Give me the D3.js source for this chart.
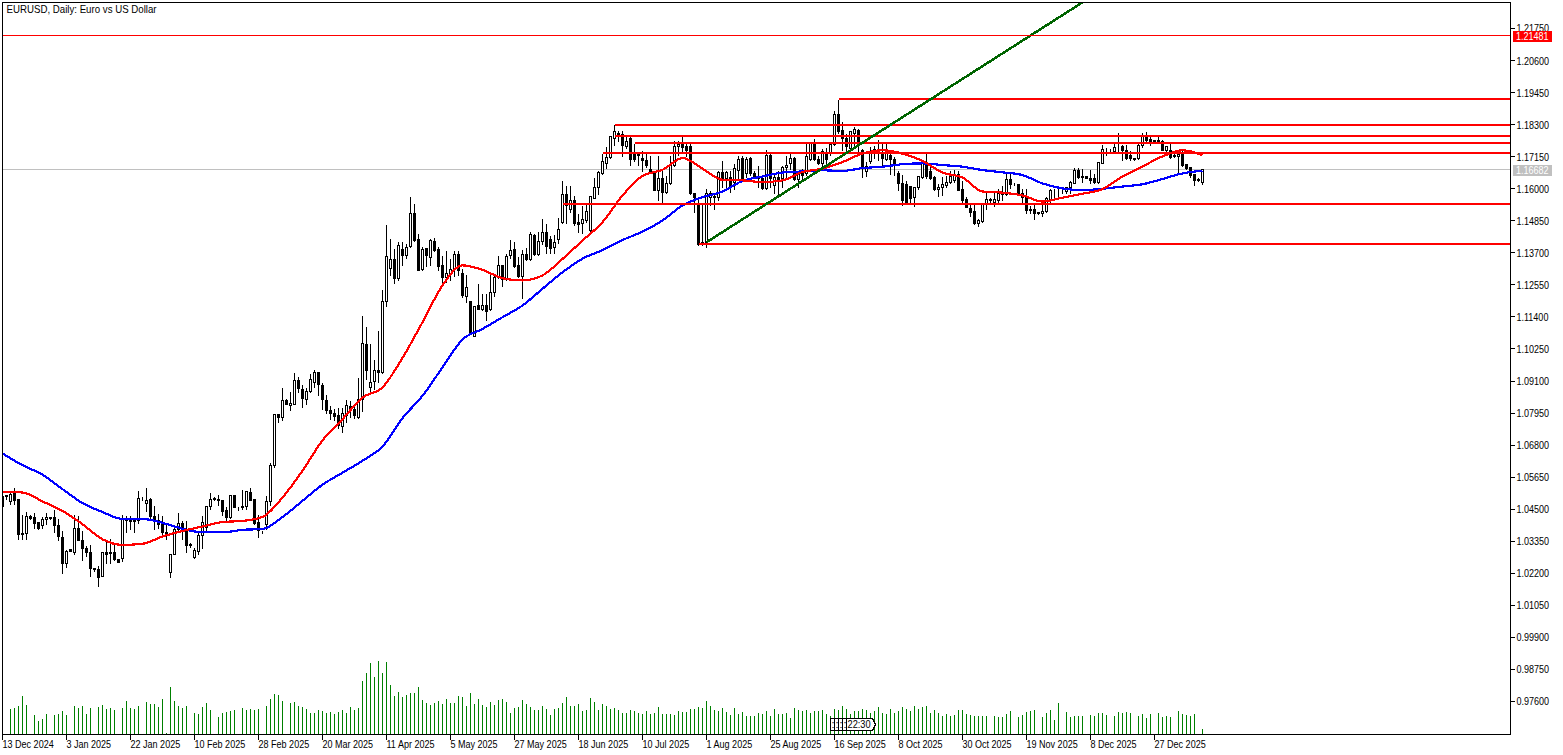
<!DOCTYPE html>
<html><head><meta charset="utf-8">
<script src="https://cdn.jsdelivr.net/npm/d3@7/dist/d3.min.js"></script>
<style>
html,body{margin:0;padding:0;background:#fff;overflow:hidden}
svg{display:block}
text{font-family:"Liberation Sans",sans-serif;font-size:11px;fill:#000}
</style></head><body>
<svg id="c" width="1563" height="755"></svg>
<script>
const titleText = "EURUSD, Daily:  Euro vs US Dollar";
const dateLabels = ["13 Dec 2024","3 Jan 2025","22 Jan 2025","10 Feb 2025","28 Feb 2025","20 Mar 2025","11 Apr 2025","5 May 2025","27 May 2025","18 Jun 2025","10 Jul 2025","1 Aug 2025","25 Aug 2025","16 Sep 2025","8 Oct 2025","30 Oct 2025","19 Nov 2025","8 Dec 2025","27 Dec 2025"];
const priceTicks = [1.2175,1.206,1.1945,1.183,1.1715,1.16,1.1485,1.137,1.1255,1.114,1.1025,1.091,1.0795,1.068,1.0565,1.045,1.0335,1.022,1.0105,0.999,0.9875,0.976];
const lastPrice = 1.16682;
const alertPrice = 1.21481;
// [open, high, low, close] per daily bar
const candles = [
[1.0494,1.0498,1.0460,1.0460],[1.0498,1.0504,1.0486,1.0494],[1.0478,1.0516,1.0468,1.0504],[1.0506,1.0528,1.0468,1.0482],[1.0484,1.0484,1.0340,1.0358],[1.0364,1.0430,1.0340,1.0359],[1.0364,1.0442,1.0340,1.0425],[1.0425,1.0430,1.0414,1.0416],[1.0421,1.0440,1.0382,1.0397],[1.0402,1.0404,1.0378,1.0382],
[1.0392,1.0425,1.0382,1.0414],[1.0414,1.0439,1.0396,1.0422],[1.0420,1.0422,1.0413,1.0415],[1.0419,1.0450,1.0366,1.0392],[1.0392,1.0418,1.0336,1.0352],[1.0347,1.0372,1.0218,1.0254],[1.0254,1.0304,1.0240,1.0300],[1.0304,1.0306,1.0298,1.0300],[1.0294,1.0432,1.0288,1.0382],[1.0382,1.0426,1.0336,1.0338],
[1.0338,1.0372,1.0266,1.0308],[1.0310,1.0318,1.0282,1.0293],[1.0296,1.0324,1.0209,1.0236],[1.0237,1.0242,1.0228,1.0235],[1.0232,1.0248,1.0173,1.0206],[1.0210,1.0300,1.0208,1.0296],[1.0296,1.0336,1.0254,1.0287],[1.0296,1.0344,1.0254,1.0292],[1.0296,1.0330,1.0266,1.0269],[1.0270,1.0272,1.0257,1.0258],
[1.0272,1.0430,1.0264,1.0414],[1.0414,1.0426,1.0366,1.0408],[1.0414,1.0426,1.0378,1.0407],[1.0414,1.0422,1.0366,1.0407],[1.0408,1.0516,1.0398,1.0490],[1.0490,1.0494,1.0480,1.0488],[1.0470,1.0528,1.0442,1.0482],[1.0484,1.0492,1.0414,1.0423],[1.0425,1.0462,1.0378,1.0410],[1.0408,1.0434,1.0382,1.0396],
[1.0398,1.0426,1.0360,1.0366],[1.0368,1.0396,1.0342,1.0362],[1.0222,1.0290,1.0204,1.0288],[1.0288,1.0390,1.0286,1.0378],[1.0379,1.0438,1.0372,1.0398],[1.0400,1.0408,1.0342,1.0374],[1.0370,1.0408,1.0294,1.0318],[1.0323,1.0330,1.0314,1.0321],[1.0276,1.0312,1.0272,1.0302],[1.0298,1.0372,1.0288,1.0356],
[1.0355,1.0426,1.0310,1.0402],[1.0384,1.0462,1.0366,1.0458],[1.0458,1.0510,1.0450,1.0486],[1.0487,1.0494,1.0482,1.0486],[1.0484,1.0504,1.0462,1.0482],[1.0480,1.0482,1.0426,1.0442],[1.0444,1.0458,1.0408,1.0420],[1.0420,1.0502,1.0418,1.0498],[1.0498,1.0502,1.0456,1.0456],[1.0457,1.0458,1.0444,1.0455],
[1.0457,1.0522,1.0450,1.0459],[1.0460,1.0516,1.0450,1.0512],[1.0510,1.0528,1.0480,1.0482],[1.0484,1.0486,1.0394,1.0398],[1.0401,1.0432,1.0350,1.0372],[1.0371,1.0372,1.0364,1.0370],[1.0396,1.0498,1.0378,1.0476],[1.0476,1.0618,1.0462,1.0606],[1.0606,1.0793,1.0600,1.0789],[1.0789,1.0790,1.0761,1.0779],
[1.0779,1.0885,1.0767,1.0841],[1.0841,1.0849,1.0825,1.0827],[1.0822,1.0871,1.0803,1.0831],[1.0827,1.0941,1.0825,1.0913],[1.0913,1.0928,1.0869,1.0883],[1.0881,1.0897,1.0815,1.0849],[1.0845,1.0887,1.0827,1.0871],[1.0873,1.0937,1.0869,1.0917],[1.0905,1.0951,1.0887,1.0939],[1.0939,1.0941,1.0857,1.0899],
[1.0895,1.0905,1.0809,1.0845],[1.0841,1.0863,1.0793,1.0803],[1.0805,1.0821,1.0773,1.0795],[1.0795,1.0813,1.0767,1.0781],[1.0785,1.0815,1.0741,1.0749],[1.0747,1.0815,1.0725,1.0795],[1.0785,1.0845,1.0761,1.0821],[1.0819,1.0841,1.0779,1.0809],[1.0809,1.0827,1.0777,1.0785],[1.0779,1.0923,1.0777,1.0845],
[1.0845,1.1145,1.0801,1.1045],[1.1041,1.1105,1.0917,1.0947],[1.0887,1.1045,1.0871,1.0903],[1.0909,1.0989,1.0881,1.0949],[1.0949,1.1091,1.0905,1.0941],[1.0940,1.1237,1.0937,1.1195],[1.1195,1.1473,1.1177,1.1357],[1.1313,1.1421,1.1289,1.1345],[1.1345,1.1385,1.1261,1.1277],[1.1277,1.1409,1.1271,1.1397],
[1.1381,1.1409,1.1325,1.1359],[1.1359,1.1403,1.1349,1.1389],[1.1391,1.1573,1.1389,1.1511],[1.1511,1.1547,1.1409,1.1415],[1.1417,1.1439,1.1305,1.1307],[1.1309,1.1393,1.1307,1.1381],[1.1385,1.1389,1.1321,1.1361],[1.1355,1.1423,1.1325,1.1415],[1.1411,1.1425,1.1373,1.1377],[1.1381,1.1391,1.1307,1.1321],
[1.1325,1.1361,1.1261,1.1281],[1.1283,1.1377,1.1265,1.1295],[1.1297,1.1349,1.1271,1.1309],[1.1309,1.1377,1.1285,1.1365],[1.1365,1.1377,1.1289,1.1307],[1.1295,1.1313,1.1209,1.1217],[1.1215,1.1293,1.1193,1.1245],[1.1195,1.1196,1.1077,1.1079],[1.1071,1.1181,1.1069,1.1179],[1.1180,1.1261,1.1165,1.1167],
[1.1167,1.1225,1.1163,1.1180],[1.1181,1.1225,1.1127,1.1159],[1.1167,1.1295,1.1163,1.1229],[1.1229,1.1295,1.1213,1.1281],[1.1281,1.1361,1.1277,1.1324],[1.1324,1.1325,1.1249,1.1273],[1.1273,1.1367,1.1271,1.1357],[1.1361,1.1417,1.1349,1.1377],[1.1381,1.1409,1.1319,1.1321],[1.1324,1.1357,1.1283,1.1285],
[1.1285,1.1381,1.1205,1.1363],[1.1363,1.1389,1.1343,1.1345],[1.1345,1.1445,1.1341,1.1437],[1.1433,1.1441,1.1361,1.1365],[1.1365,1.1445,1.1361,1.1411],[1.1409,1.1493,1.1401,1.1443],[1.1443,1.1475,1.1369,1.1391],[1.1418,1.1432,1.1366,1.1386],[1.1390,1.1436,1.1368,1.1408],[1.1418,1.1498,1.1404,1.1452],
[1.1480,1.1630,1.1476,1.1578],[1.1578,1.1612,1.1474,1.1540],[1.1526,1.1612,1.1516,1.1556],[1.1556,1.1576,1.1468,1.1476],[1.1478,1.1510,1.1444,1.1473],[1.1474,1.1540,1.1438,1.1488],[1.1486,1.1546,1.1480,1.1518],[1.1450,1.1576,1.1448,1.1572],[1.1566,1.1640,1.1564,1.1606],[1.1604,1.1666,1.1580,1.1660],
[1.1654,1.1726,1.1652,1.1698],[1.1692,1.1750,1.1672,1.1712],[1.1712,1.1790,1.1708,1.1786],[1.1780,1.1830,1.1756,1.1806],[1.1800,1.1808,1.1768,1.1796],[1.1796,1.1808,1.1714,1.1754],[1.1750,1.1786,1.1744,1.1770],[1.1782,1.1786,1.1684,1.1704],[1.1728,1.1764,1.1696,1.1704],[1.1722,1.1732,1.1684,1.1720],
[1.1708,1.1738,1.1662,1.1700],[1.1700,1.1726,1.1678,1.1684],[1.1668,1.1720,1.1654,1.1660],[1.1654,1.1654,1.1592,1.1594],[1.1594,1.1720,1.1558,1.1636],[1.1636,1.1672,1.1552,1.1588],[1.1588,1.1648,1.1582,1.1618],[1.1618,1.1720,1.1616,1.1684],[1.1684,1.1774,1.1680,1.1752],[1.1752,1.1774,1.1720,1.1758],
[1.1764,1.1786,1.1726,1.1748],[1.1752,1.1768,1.1714,1.1738],[1.1752,1.1768,1.1580,1.1582],[1.1584,1.1588,1.1516,1.1568],[1.1540,1.1570,1.1396,1.1400],[1.1400,1.1546,1.1398,1.1408],[1.1408,1.1600,1.1388,1.1582],[1.1570,1.1594,1.1540,1.1584],[1.1568,1.1588,1.1524,1.1572],[1.1570,1.1666,1.1558,1.1660],
[1.1660,1.1700,1.1606,1.1632],[1.1636,1.1664,1.1600,1.1660],[1.1640,1.1666,1.1588,1.1606],[1.1624,1.1690,1.1596,1.1672],[1.1666,1.1720,1.1630,1.1704],[1.1708,1.1720,1.1630,1.1638],[1.1656,1.1714,1.1642,1.1704],[1.1708,1.1714,1.1648,1.1654],[1.1654,1.1666,1.1636,1.1642],[1.1644,1.1684,1.1606,1.1636],
[1.1636,1.1648,1.1596,1.1600],[1.1600,1.1740,1.1596,1.1720],[1.1720,1.1726,1.1606,1.1636],[1.1612,1.1654,1.1582,1.1640],[1.1640,1.1666,1.1580,1.1632],[1.1636,1.1684,1.1606,1.1676],[1.1676,1.1720,1.1642,1.1684],[1.1692,1.1732,1.1668,1.1708],[1.1708,1.1716,1.1630,1.1632],[1.1632,1.1666,1.1606,1.1654],
[1.1656,1.1672,1.1630,1.1648],[1.1654,1.1762,1.1648,1.1716],[1.1704,1.1762,1.1700,1.1762],[1.1762,1.1780,1.1702,1.1704],[1.1704,1.1720,1.1688,1.1692],[1.1690,1.1744,1.1680,1.1732],[1.1728,1.1748,1.1684,1.1704],[1.1728,1.1762,1.1720,1.1760],[1.1760,1.1880,1.1756,1.1868],[1.1868,1.1922,1.1798,1.1804],
[1.1810,1.1840,1.1738,1.1780],[1.1780,1.1800,1.1726,1.1750],[1.1744,1.1804,1.1738,1.1804],[1.1798,1.1822,1.1744,1.1812],[1.1810,1.1816,1.1720,1.1762],[1.1738,1.1744,1.1642,1.1672],[1.1662,1.1696,1.1644,1.1680],[1.1696,1.1750,1.1690,1.1726],[1.1726,1.1756,1.1708,1.1740],[1.1734,1.1778,1.1702,1.1731],
[1.1726,1.1762,1.1678,1.1708],[1.1706,1.1762,1.1702,1.1726],[1.1720,1.1732,1.1652,1.1706],[1.1706,1.1714,1.1648,1.1682],[1.1654,1.1666,1.1594,1.1620],[1.1620,1.1652,1.1540,1.1558],[1.1614,1.1630,1.1546,1.1552],[1.1608,1.1612,1.1546,1.1566],[1.1568,1.1606,1.1536,1.1604],[1.1604,1.1648,1.1596,1.1644],
[1.1640,1.1696,1.1636,1.1690],[1.1688,1.1726,1.1636,1.1644],[1.1662,1.1684,1.1632,1.1636],[1.1640,1.1648,1.1594,1.1596],[1.1596,1.1618,1.1572,1.1606],[1.1606,1.1644,1.1576,1.1616],[1.1612,1.1648,1.1606,1.1622],[1.1624,1.1666,1.1618,1.1644],[1.1628,1.1668,1.1624,1.1648],[1.1652,1.1666,1.1592,1.1594],
[1.1596,1.1630,1.1552,1.1558],[1.1560,1.1572,1.1532,1.1534],[1.1528,1.1546,1.1500,1.1516],[1.1518,1.1546,1.1472,1.1474],[1.1474,1.1492,1.1464,1.1486],[1.1484,1.1552,1.1480,1.1548],[1.1546,1.1588,1.1524,1.1560],[1.1560,1.1568,1.1551,1.1559],[1.1552,1.1588,1.1536,1.1560],[1.1558,1.1600,1.1546,1.1582],
[1.1584,1.1612,1.1558,1.1580],[1.1580,1.1654,1.1576,1.1632],[1.1632,1.1654,1.1600,1.1616],[1.1619,1.1624,1.1612,1.1618],[1.1616,1.1618,1.1576,1.1582],[1.1584,1.1600,1.1552,1.1570],[1.1570,1.1600,1.1510,1.1522],[1.1525,1.1540,1.1510,1.1523],[1.1524,1.1546,1.1488,1.1510],[1.1514,1.1516,1.1508,1.1510],
[1.1510,1.1546,1.1500,1.1520],[1.1520,1.1572,1.1516,1.1564],[1.1560,1.1600,1.1552,1.1594],[1.1595,1.1600,1.1558,1.1593],[1.1597,1.1600,1.1560,1.1596],[1.1597,1.1608,1.1582,1.1596],[1.1590,1.1608,1.1582,1.1604],[1.1604,1.1630,1.1584,1.1623],[1.1620,1.1676,1.1618,1.1666],[1.1666,1.1676,1.1636,1.1642],
[1.1643,1.1672,1.1624,1.1641],[1.1644,1.1646,1.1636,1.1637],[1.1636,1.1668,1.1620,1.1628],[1.1636,1.1654,1.1620,1.1624],[1.1624,1.1697,1.1620,1.1695],[1.1692,1.1760,1.1690,1.1740],[1.1739,1.1748,1.1720,1.1738],[1.1737,1.1744,1.1732,1.1736],[1.1732,1.1764,1.1728,1.1748],[1.1747,1.1802,1.1732,1.1748],
[1.1750,1.1760,1.1700,1.1736],[1.1736,1.1760,1.1706,1.1708],[1.1720,1.1738,1.1700,1.1708],[1.1710,1.1712,1.1702,1.1704],[1.1708,1.1768,1.1704,1.1756],[1.1756,1.1802,1.1748,1.1786],[1.1786,1.1804,1.1762,1.1774],[1.1778,1.1794,1.1756,1.1770],[1.1773,1.1776,1.1764,1.1771],[1.1774,1.1788,1.1762,1.1770],
[1.1768,1.1776,1.1736,1.1738],[1.1738,1.1756,1.1726,1.1752],[1.1738,1.1762,1.1708,1.1712],[1.1720,1.1732,1.1712,1.1714],[1.1714,1.1732,1.1654,1.1724],[1.1724,1.1738,1.1680,1.1684],[1.1688,1.1692,1.1668,1.1672],[1.1676,1.1680,1.1640,1.1648],[1.1650,1.1652,1.1612,1.1630],[1.1632,1.1640,1.1626,1.1630],
[1.1624,1.1668,1.1616,1.1668]
];
// tick volume per bar, thousands
const volumes = [0,0,76,78,85,115,88,0,58,40,46,61,0,58,61,70,58,0,85,79,85,61,79,0,82,88,76,79,73,0,79,100,79,76,85,0,97,91,91,82,106,3,142,100,85,79,85,0,64,61,82,94,73,0,52,64,67,70,73,0,79,73,76,73,76,0,85,106,121,118,100,0,94,97,85,82,76,64,64,73,70,64,67,61,67,73,64,82,73,79,160,184,214,172,220,184,217,
147,114,126,111,117,123,123,141,102,93,87,93,99,90,105,93,93,114,111,84,123,90,105,87,81,96,87,102,105,96,63,78,81,102,90,81,72,72,84,75,57,75,78,93,111,84,84,90,69,72,108,96,72,90,84,75,78,72,63,63,72,69,63,60,69,60,63,81,60,60,60,57,69,66,66,75,75,81,78,99,84,72,69,78,66,57,78,60,66,54,54,54,63,60,69,54,75,60,
61,64,49,79,73,70,73,64,70,70,73,61,55,76,73,85,76,61,70,70,76,73,64,70,82,64,61,76,64,70,82,76,70,85,76,82,85,64,73,64,55,61,55,58,73,73,61,58,55,55,55,55,0,55,52,52,61,70,0,52,58,67,70,73,0,52,64,73,43,94,0,67,52,55,55,55,0,58,55,64,64,58,0,55,67,64,67,64,0,55,61,49,61,0,64,52,55,52,0,70,61,58,55,61,0,16];
// moving averages, read every fifth bar
const maStep = 5;
const maRed = [1.0512,1.0510,1.0478,1.0444,1.0396,1.0342,1.0322,1.0326,1.0352,1.0372,1.0388,1.0404,1.0408,1.0422,1.0492,1.0588,1.0697,1.0773,1.0851,1.0887,1.0993,1.1121,1.1253,1.1325,1.1309,1.1279,1.1271,1.1289,1.1348,1.1414,1.1480,1.1576,1.1646,1.1668,1.1710,1.1672,1.1632,1.1630,1.1624,1.1630,1.1660,1.1672,1.1696,1.1726,1.1738,1.1726,1.1700,1.1658,1.1640,1.1590,1.1586,1.1576,1.1554,1.1568,1.1582,1.1599,1.1644,1.1680,1.1716,1.1738,1.1721];
const maBlue = [1.0650,1.0608,1.0574,1.0522,1.0472,1.0440,1.0415,1.0415,1.0401,1.0380,1.0367,1.0367,1.0376,1.0379,1.0422,1.0480,1.0538,1.0581,1.0624,1.0675,1.0777,1.0857,1.0959,1.1059,1.1097,1.1139,1.1181,1.1241,1.1300,1.1349,1.1380,1.1416,1.1446,1.1486,1.1540,1.1570,1.1590,1.1628,1.1644,1.1658,1.1662,1.1666,1.1664,1.1674,1.1679,1.1688,1.1691,1.1685,1.1679,1.1667,1.1659,1.1649,1.1619,1.1601,1.1595,1.1600,1.1608,1.1616,1.1635,1.1655,1.1665];
// horizontal levels: first bar and price
const levelBars = [209,153,153,158,150,140,174];
const levelPrices = [1.1923,1.1828,1.1789,1.1765,1.1729,1.1545,1.1401];
// trend line anchors
const trendBars = [176,271];
const trendPrices = [1.1408,1.2278];
const timeLabels = [":",":",":",":","22:30"];

const svg = d3.select("#c");
const W = 1510, B = 734, T = 2, L = 2;
const x = d3.scaleLinear().domain([0,300]).range([2.5,1202.5]);
const y = d3.scaleLinear().domain([1.2175,0.976]).range([28.5,701.5]);
const vol = d3.scaleLinear().domain([0,300]).range([734,634]);
const px = v => Math.round(v-0.5)+0.5;
function squeeze(sel,f){sel.each(function(){
  const w=this.getComputedTextLength();
  this.setAttribute("textLength",(w*f).toFixed(1));
  this.setAttribute("lengthAdjust","spacingAndGlyphs");
});}

svg.append("defs").append("clipPath").attr("id","plot").append("rect")
  .attr("x",L).attr("y",T).attr("width",W-L).attr("height",B-T);
const plot = svg.append("g").attr("clip-path","url(#plot)");

// last price line
plot.append("line").attr("x1",L).attr("x2",W).attr("y1",px(y(lastPrice))).attr("y2",px(y(lastPrice)))
  .attr("stroke","#c0c0c0").attr("shape-rendering","crispEdges");

// volumes
plot.append("g").selectAll("line").data(volumes.map((v,i)=>({v,i})).filter(d=>d.v>0)).join("line")
  .attr("x1",d=>x(d.i)).attr("x2",d=>x(d.i)).attr("y1",vol(0)).attr("y2",d=>vol(d.v))
  .attr("stroke","#008000").attr("shape-rendering","crispEdges");

// candles
const rows = candles.map((c,i)=>({i,o:c[0],h:c[1],l:c[2],c:c[3]}));
const cg = plot.append("g").attr("shape-rendering","crispEdges");
cg.selectAll("line").data(rows).join("line")
  .attr("x1",d=>x(d.i)).attr("x2",d=>x(d.i))
  .attr("y1",d=>px(y(d.h))).attr("y2",d=>px(y(d.l)))
  .attr("stroke","#000");
cg.selectAll("rect").data(rows).join("rect")
  .attr("x",d=>x(d.i)-1).attr("width",2)
  .attr("y",d=>px(y(Math.max(d.o,d.c))))
  .attr("height",d=>Math.max(0,px(y(Math.min(d.o,d.c)))-px(y(Math.max(d.o,d.c)))))
  .attr("fill",d=>d.c>d.o?"#fff":"#000").attr("stroke","#000");

// moving averages
const maLine = d3.line().x((d,i)=>x(i*maStep)).y(d=>y(d)).curve(d3.curveMonotoneX);
[[maBlue,"#0000ff"],[maRed,"#ff0000"]].forEach(([s,col])=>{
  plot.append("path").datum(s).attr("d",maLine).attr("fill","none").attr("stroke",col).attr("stroke-width",2.2).attr("shape-rendering","crispEdges");
});

// levels
plot.append("g").selectAll("line").data(levelBars.map((b,i)=>({b,p:levelPrices[i]}))).join("line")
  .attr("x1",d=>x(d.b)).attr("x2",W).attr("y1",d=>Math.round(y(d.p))).attr("y2",d=>Math.round(y(d.p)))
  .attr("stroke","#ff0000").attr("stroke-width",2).attr("shape-rendering","crispEdges");

// trend line
plot.append("line").attr("x1",x(trendBars[0])).attr("y1",y(trendPrices[0])).attr("x2",x(trendBars[1])).attr("y2",y(trendPrices[1]))
  .attr("stroke","#006400").attr("stroke-width",2.5).attr("shape-rendering","crispEdges");

// time marker boxes
const tg = svg.append("g");
timeLabels.forEach((t,k)=>{
  const bx = 830 + k*4;
  const w = 26;
  tg.append("path").attr("d",`M${bx+.5} 718.5H${bx+w+.5}L${bx+w+3.5} 724.5L${bx+w+.5} 730.5H${bx+.5}Z`)
    .attr("fill","#fff").attr("stroke","#000").attr("shape-rendering","crispEdges");
  const lab = tg.append("text").attr("x",bx+1.5).attr("y",728).text(t);
  if (t.length>1) squeeze(lab,0.84);
});

// frame
svg.append("path").attr("d",`M${L+.5} ${B+.5}V${T+.5}H${W+.5}V${B+.5}H${L+.5}`)
  .attr("fill","none").attr("stroke","#000").attr("shape-rendering","crispEdges");

// price axis
const ya = svg.append("g").attr("transform",`translate(${W+.5},0)`)
  .call(d3.axisRight(y).tickValues(priceTicks).tickFormat(d3.format(".5f")).tickSize(4).offset(0));
ya.select(".domain").remove();
ya.selectAll("line").attr("stroke","#000").attr("shape-rendering","crispEdges");
ya.selectAll("text").attr("x",6).attr("dy","0.36em").attr("fill","#000").style("font","11px 'Liberation Sans',sans-serif").call(squeeze,0.82);

// time axis
const xTicks = dateLabels.map((d,i)=>i*16);
const xa = svg.append("g").attr("transform",`translate(0,${B+.5})`)
  .call(d3.axisBottom(x).tickValues(xTicks).tickFormat((d,i)=>dateLabels[i]).tickSize(5).offset(0));
xa.select(".domain").remove();
xa.selectAll("line").attr("stroke","#000").attr("shape-rendering","crispEdges");
xa.selectAll("text").attr("text-anchor","start").attr("x",0).attr("y",6).attr("dy","0.71em").attr("fill","#000").style("font","11px 'Liberation Sans',sans-serif").call(squeeze,0.82);

// alert line, on top of the plot
svg.append("line").attr("x1",L+1).attr("x2",W).attr("y1",px(y(alertPrice))).attr("y2",px(y(alertPrice)))
  .attr("stroke","#ff0000").attr("shape-rendering","crispEdges");

// price tags
[[alertPrice,"#ff0000"],[lastPrice,"#c0c0c0"]].forEach(([p,col])=>{
  const cy = y(p);
  svg.append("rect").attr("x",1513).attr("y",Math.round(cy)-5).attr("width",39).attr("height",11).attr("fill",col);
  svg.append("text").attr("x",1516).attr("y",Math.round(cy)+4).style("fill","#fff").text(d3.format(".5f")(p)).call(squeeze,0.82);
});

svg.append("text").attr("x",6.5).attr("y",13).text(titleText).call(squeeze,0.88);
</script>
</body></html>
